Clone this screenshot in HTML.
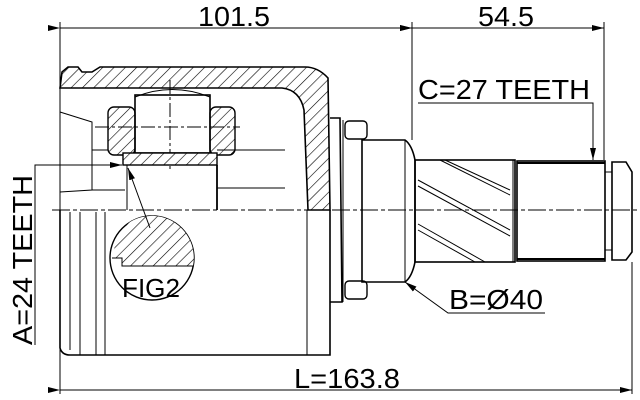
<!DOCTYPE html>
<html><head><meta charset="utf-8"><style>body{margin:0;background:#fff}svg{display:block}</style></head>
<body>
<svg width="640" height="400" viewBox="0 0 640 400" xmlns="http://www.w3.org/2000/svg" font-family="Liberation Sans, sans-serif">
<defs>
<pattern id="h" width="8" height="8" patternUnits="userSpaceOnUse" patternTransform="rotate(45)">
<rect width="8" height="8" fill="#fff"/><line x1="0" y1="0" x2="0" y2="8" stroke="#000" stroke-width="1.2"/></pattern>
<marker id="a" markerWidth="12" markerHeight="6" refX="12" refY="3" orient="auto" markerUnits="userSpaceOnUse"><path d="M0,0 L12,3 L0,6z" fill="#000"/></marker>
</defs>
<g stroke="#000" fill="none" stroke-width="1">
<line x1="60" y1="22" x2="60" y2="394"/>
<line x1="412" y1="22" x2="412" y2="140"/>
<line x1="604" y1="22" x2="604" y2="160"/>
<line x1="632" y1="262" x2="632" y2="394"/>
<line x1="60" y1="28" x2="412" y2="28" marker-start="url(#a)" marker-end="url(#a)"/>
<line x1="412" y1="28" x2="604" y2="28" marker-start="url(#a)" marker-end="url(#a)"/>
<line x1="60" y1="390" x2="632" y2="390" marker-start="url(#a)" marker-end="url(#a)"/>
<path d="M62,72 L68,67 L78,67 L82,72 L92,72 L100,67 L305,67 Q318,67 328,78 L330,210 L308,210 L304,110 Q300,90 282,88 L60,88 Z" fill="url(#h)" stroke-width="1.6"/>
<path d="M60,210 L60,348 Q62,355 70,355 L330,355 L330,210" stroke-width="1.6"/>
<line x1="70" y1="212" x2="70" y2="350"/>
<line x1="80" y1="212" x2="80" y2="355"/>
<line x1="96" y1="212" x2="96" y2="355"/>
<line x1="105" y1="212" x2="105" y2="355"/>
<line x1="307" y1="210" x2="307" y2="355"/>
<path d="M60,112 L92,122 L92,190 L60,192"/>
<line x1="92" y1="150" x2="125" y2="150"/>
<line x1="92" y1="190" x2="125" y2="190"/>
<rect x="108" y="107" width="27" height="48" rx="6" fill="url(#h)" stroke-width="1.4"/>
<rect x="210" y="107" width="25" height="48" rx="6" fill="url(#h)" stroke-width="1.4"/>
<rect x="135" y="95" width="75" height="58" stroke-width="1.6"/>
<path d="M135,97 Q172,82 210,97"/>
<line x1="170" y1="80" x2="170" y2="170" stroke-dasharray="14,3,3,3"/>
<line x1="95" y1="127" x2="240" y2="127" stroke-dasharray="14,3,3,3"/>
<rect x="123" y="153" width="94" height="12" fill="url(#h)" stroke-width="1.4"/>
<line x1="127" y1="165" x2="127" y2="210"/>
<line x1="217" y1="165" x2="217" y2="210" stroke-width="1.8"/>
<line x1="217" y1="150" x2="285" y2="150"/>
<line x1="217" y1="188" x2="285" y2="188"/>
<path d="M330,118 L340,118 L342,302 L330,302" stroke-width="1.6"/>
<line x1="343" y1="120" x2="343" y2="302"/>
<rect x="345" y="121" width="22" height="18" rx="4" stroke-width="1.4"/>
<rect x="345" y="281" width="22" height="18" rx="4" stroke-width="1.4"/>
<path d="M362,140 L405,140 Q412,145 415,160 L415,262 Q412,277 405,282 L362,282 Z" stroke-width="1.6"/>
<line x1="405" y1="140" x2="405" y2="282"/>
<rect x="415" y="160" width="100" height="102" stroke-width="1.6"/>
<line x1="440" y1="160" x2="510" y2="195"/><line x1="445" y1="160" x2="510" y2="190"/>
<line x1="418" y1="180" x2="510" y2="230"/><line x1="418" y1="186" x2="510" y2="236"/>
<line x1="418" y1="224" x2="485" y2="262"/><line x1="418" y1="230" x2="475" y2="262"/>
<line x1="513" y1="160" x2="513" y2="262"/>
<rect x="517" y="161" width="88" height="100" stroke-width="1.6"/>
<line x1="517" y1="163" x2="605" y2="163" stroke-width="2"/>
<line x1="517" y1="259" x2="605" y2="259" stroke-width="2"/>
<rect x="605" y="172" width="7" height="78"/>
<path d="M612,162 L626,162 L632,172 L632,252 L626,260 L612,260 Z" stroke-width="1.6"/>
<line x1="52" y1="210" x2="638" y2="210" stroke-dasharray="18,3,4,3"/>
<circle cx="152" cy="258" r="42" stroke-width="1.4"/>
<path d="M112,258 L122,258 L122,266 L193,266 A42,42 0 0 0 130,222 Q116,235 112,258 Z" fill="url(#h)" stroke="none"/>
<path d="M112,258 L122,258 L122,266 L193,266"/>
<line x1="150" y1="228" x2="128" y2="168" marker-end="url(#a)"/>
<polyline points="35,345 35,165 122,165" marker-end="url(#a)"/>
<polyline points="418,103 593,103 593,160" marker-end="url(#a)"/>
<polyline points="545,313 448,313 405,282" marker-end="url(#a)"/>
</g>
<g font-size="28" fill="#000">
<text x="198" y="26" textLength="72" lengthAdjust="spacingAndGlyphs">101.5</text>
<text x="478" y="26" textLength="56" lengthAdjust="spacingAndGlyphs">54.5</text>
<text x="294" y="388" textLength="106" lengthAdjust="spacingAndGlyphs">L=163.8</text>
<text x="418" y="99" textLength="172" lengthAdjust="spacingAndGlyphs">C=27 TEETH</text>
<text x="449" y="309" textLength="94" lengthAdjust="spacingAndGlyphs">B=Ø40</text>
<text x="122" y="297" font-size="26" textLength="58" lengthAdjust="spacingAndGlyphs">FIG2</text>
<text transform="translate(32,345) rotate(-90)" textLength="170" lengthAdjust="spacingAndGlyphs">A=24 TEETH</text>
</g>
</svg>
</body></html>
